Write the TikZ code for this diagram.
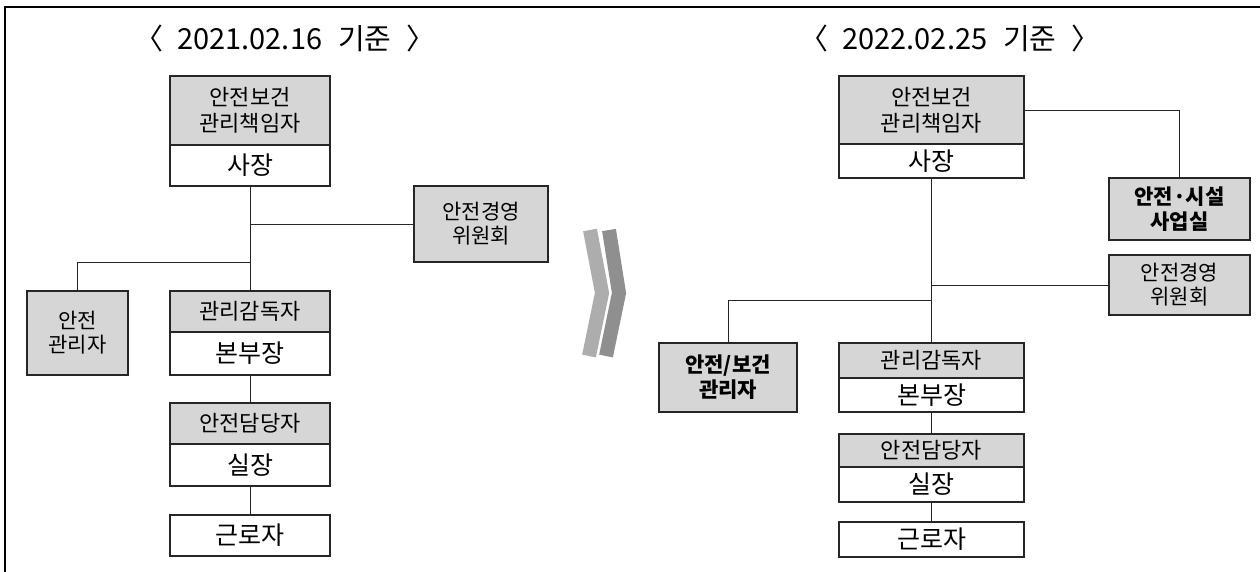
\documentclass[tikz,border=0pt]{standalone}
\usepackage{fontspec}
\setmainfont{Noto Sans CJK KR}
\usetikzlibrary{positioning}

\begin{document}
\begin{tikzpicture}[
  x=1pt, y=-1pt,
  box/.style={draw=black!85, line width=1.3pt, align=center, inner sep=0pt,
              outer sep=0pt, minimum width=160pt},
  head/.style={box, fill=black!16, font=\fontsize{22}{26}\selectfont},
  body/.style={box, fill=white, font=\fontsize{25}{28}\selectfont},
  side/.style={box, fill=black!16, font=\fontsize{21}{24}\selectfont},
  sidebf/.style={side, font=\fontsize{21}{25}\selectfont\bfseries},
  title/.style={font=\fontsize{29}{32}\selectfont},
  link/.style={line width=0.9pt, draw=black!85},
  bar/.style={line width=14pt, line join=miter},
]
  \useasboundingbox (0,0) rectangle (1260,572);
  % --- frame ---
  \draw[line width=1.5pt] (5,572) -- (5,7) -- (1260,7);
  % --- before ---
  \node[title] (dateA) at (285,38) {〈\hspace{14pt}2021.02.16\hspace{16pt}기준\hspace{15pt}〉};
  \node[head, minimum height=69pt] (mgrA) at (250,110.5) {안전보건\\관리책임자};
  \node[body, minimum height=41pt, below=0pt of mgrA] (chiefA) {사장};
  \node[side, minimum width=134pt, minimum height=76pt] (cmteA) at (481,224) {안전경영\\위원회};
  \node[side, minimum width=101pt, minimum height=84pt] (safeA) at (77.5,333) {안전\\관리자};
  \node[head, minimum height=41pt] (supA) at (250,311.5) {관리감독자};
  \node[body, minimum height=43pt, below=0pt of supA] (hqA) {본부장};
  \node[head, minimum height=41pt] (offA) at (250,423.5) {안전담당자};
  \node[body, minimum height=42pt, below=0pt of offA] (roomA) {실장};
  \node[body, minimum height=41pt] (workA) at (250,535.5) {근로자};
  \coordinate (brA) at (250,262);
  \draw[link] (chiefA.south) -- (supA.north);
  \draw[link] (chiefA.south |- cmteA.west) -- (cmteA.west);
  \draw[link] (brA) -| (safeA.north);
  \draw[link] (hqA.south) -- (offA.north);
  \draw[link] (roomA.south) -- (workA.north);
  % --- chevron ---
  \draw[bar, black!32] (590,230) -- (602,293) -- (589,356);
  \draw[bar, black!44] (609,230) -- (619,293) -- (606,356);
  % --- after ---
  \node[title] (dateB) at (950,38) {〈\hspace{14pt}2022.02.25\hspace{16pt}기준\hspace{15pt}〉};
  \node[head, minimum width=185pt, minimum height=68pt] (mgrB) at (931.5,110) {안전보건\\관리책임자};
  \node[body, minimum width=185pt, minimum height=34pt, below=0pt of mgrB] (chiefB) {사장};
  \node[sidebf, minimum width=141pt, minimum height=62pt] (bizB) at (1179.5,209) {안전·시설\\사업실};
  \node[side, minimum width=141pt, minimum height=60pt] (cmteB) at (1179.5,285) {안전경영\\위원회};
  \node[sidebf, minimum width=138pt, minimum height=69pt] (safeB) at (728,377.5) {안전/보건\\관리자};
  \node[head, minimum width=185pt, minimum height=35pt] (supB) at (931.5,360.5) {관리감독자};
  \node[body, minimum width=185pt, minimum height=34pt, below=0pt of supB] (hqB) {본부장};
  \node[head, minimum width=185pt, minimum height=33pt] (offB) at (931.5,450.5) {안전담당자};
  \node[body, minimum width=185pt, minimum height=35pt, below=0pt of offB] (roomB) {실장};
  \node[body, minimum width=185pt, minimum height=35pt] (workB) at (931.5,539.5) {근로자};
  \coordinate (brB) at (931.5,300);
  \draw[link] (mgrB.east) -| (bizB.north);
  \draw[link] (chiefB.south) -- (supB.north);
  \draw[link] (chiefB.south |- cmteB.west) -- (cmteB.west);
  \draw[link] (brB) -| (safeB.north);
  \draw[link] (hqB.south) -- (offB.north);
  \draw[link] (roomB.south) -- (workB.north);
\end{tikzpicture}
\end{document}
